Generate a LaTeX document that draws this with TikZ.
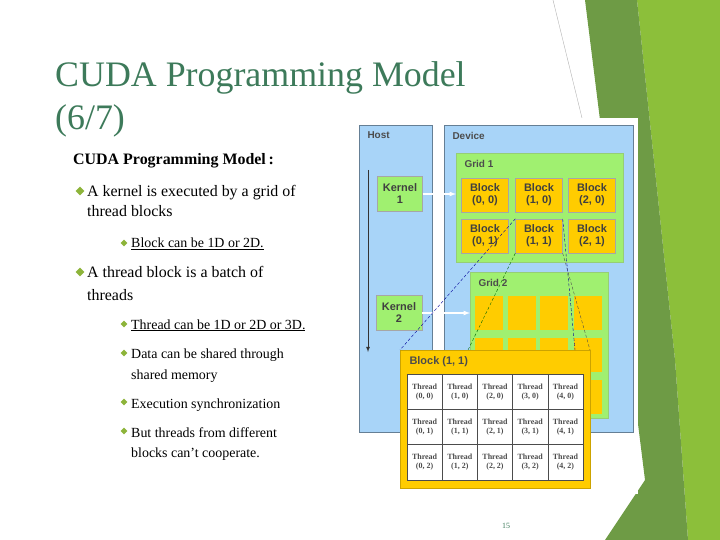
\documentclass[tikz,border=0pt]{standalone}
\usepackage{fontspec}
\setmainfont{Liberation Serif}
\newfontfamily\diag{Liberation Sans}
\usepackage{tikz}
\usetikzlibrary{shapes.geometric}
\definecolor{ttl}{HTML}{3D7A5A}
\definecolor{bul}{HTML}{8DB43A}
\definecolor{hostc}{HTML}{A8D4F8}
\definecolor{gridc}{HTML}{A0F070}
\definecolor{blkc}{HTML}{FFCC00}
\definecolor{dkg}{HTML}{6E9B45}
\definecolor{ltg}{HTML}{8CBF3A}
\tikzset{
  txt/.style={anchor=base west, inner sep=0pt, font=\fontsize{16}{18}\selectfont},
  sub/.style={anchor=base west, inner sep=0pt, font=\fontsize{14}{16}\selectfont},
  dia/.style={diamond, fill=bul, inner sep=0pt, minimum size=#1},
  box/.style={draw=gray!70, inner sep=0pt, font=\diag\bfseries\fontsize{11}{12}\selectfont, align=center, text=black!75},
  lbl/.style={anchor=north west, font=\diag\bfseries\fontsize{10}{11}\selectfont, text=black!70},
  link/.style={densely dashed, thin}
}
\begin{document}
\begin{tikzpicture}[x=1bp, y=-1bp]
    \useasboundingbox (0,0) rectangle (720,540);
    % background shapes
    \fill[ltg] (637,0) -- (720,0) -- (720,540) -- (688,540) -- (675,360) -- cycle;
    \fill[dkg] (585,0) -- (637,0) -- (675,360) -- (688,540) -- (605,540) -- (645,480) -- cycle;
    \draw[gray!60] (553,0) -- (582,118);

    % title
    \node[txt, font=\fontsize{36}{40}\selectfont, text=ttl] (title1) at (55,87) {CUDA Programming Model};
    \node[txt, font=\fontsize{36}{40}\selectfont, text=ttl] (title2) at (55,130) {(6/7)};

    % text
    \node[txt, font=\bfseries\fontsize{16}{18}\selectfont] (head) at (73,165) {CUDA Programming Model\,:};
    \node[dia=9bp] (d1) at (80,191) {};
    \node[txt] (l1) at (87,197) {A kernel is executed by a grid of};
    \node[txt] (l1b) at (87,217) {thread blocks};
    \node[dia=7bp] (d2) at (124,243) {};
    \node[sub] (l2) at (131,248) {\underline{Block can be 1D or 2D.}};
    \node[dia=9bp] (d3) at (80,272) {};
    \node[txt] (l3) at (87,278) {A thread block is a batch of};
    \node[txt] (l3b) at (87,300) {threads};
    \node[dia=7bp] (d4) at (124,324) {};
    \node[sub] (l4) at (131,329) {\underline{Thread can be 1D or 2D or 3D.}};
    \node[dia=7bp] (d5) at (124,353) {};
    \node[sub] (l5) at (131,358) {Data can be shared through};
    \node[sub] (l5b) at (131,379) {shared memory};
    \node[dia=7bp] (d6) at (124,402) {};
    \node[sub] (l6) at (131,408) {Execution synchronization};
    \node[dia=7bp] (d7) at (124,431) {};
    \node[sub] (l7) at (131,437) {But threads from different};
    \node[sub] (l7b) at (131,457) {blocks can't cooperate.};
    \node[inner sep=0pt, font=\fontsize{8}{9}\selectfont, text=ttl] (page) at (506,526) {15};

    % cuda figure
    \fill[white] (357,118) rectangle (638,494);
    \draw[hostc!60!black, fill=hostc] (359,125) rectangle (432,432);
    \draw[hostc!60!black, fill=hostc] (444,125) rectangle (633,432);
    \node[lbl] (host) at (364,128) {Host};
    \node[lbl] (dev) at (449,129) {Device};
    \draw[gridc!70!gray, fill=gridc] (456,153) rectangle (623,262);
    \node[lbl] (g1) at (461,157) {Grid 1};
    \draw[gridc!70!gray, fill=gridc] (470,272) rectangle (608,418);
    \node[lbl] (g2) at (475,276) {Grid 2};

    \node[box, fill=gridc, minimum width=45bp, minimum height=35bp] (k1) at (400,194) {Kernel\\1};
    \node[box, fill=gridc, minimum width=46bp, minimum height=35bp] (k2) at (399,313) {Kernel\\2};
    \coordinate (ha) at (368,170);
    \coordinate (hb) at (368,352);
    \draw[-latex, thick, black!80] (ha) -- (hb);

    \foreach \i/\x in {0/485,1/539,2/592}{
      \foreach \j/\y in {0/195,1/236}{
        \node[box, fill=blkc, minimum width=47bp, minimum height=34bp] (b\i\j) at (\x,\y) {Block\\(\i, \j)};
      }
    }
    \foreach \x in {489,522,554,588}{
      \foreach \y in {313,355,397}{
        \fill[blkc] (\x-14,\y-17) rectangle (\x+14,\y+17);
      }
    }
    \coordinate (k1e) at (456,194);
    \coordinate (k2e) at (470,313);
    \draw[-latex, white, very thick] (k1) -- (k1e);
    \draw[-latex, white, very thick] (k2) -- (k2e);

    % zoomed block
    \draw[blkc!80!black, fill=blkc] (400,350) rectangle (590,488);
    \node[lbl, font=\diag\bfseries\fontsize{11}{12}\selectfont] (bt) at (406,353) {Block (1, 1)};
    \fill[white] (407,374) rectangle (583,480);
    \foreach \i in {0,...,4}{
      \foreach \j in {0,1,2}{
        \node[draw=black!70, inner sep=0pt, minimum width=35.2bp, minimum height=35.3bp, align=center,
              font=\bfseries\fontsize{8}{9}\selectfont, text=black!70] (t\i\j) at (424.6+35.2*\i,391.7+35.3*\j) {Thread\\(\i, \j)};
      }
    }
    \draw[link, blue!60!black] (b11.north west) -- (400,350);
    \draw[link, green!40!black] (b11.south west) -- (468,350);
    \draw[link, blue!60!black] (b11.north east) -- (575,350);
    \draw[link, black!70] (b11.south east) -- (590,350);
\end{tikzpicture}
\end{document}
